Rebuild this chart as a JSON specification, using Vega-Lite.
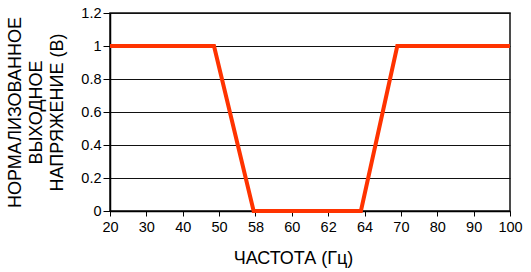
{
  "$schema": "https://vega.github.io/schema/vega-lite/v6.json",
  "width": 400,
  "height": 198,
  "autosize": "none",
  "padding": {"left": 110, "top": 13, "right": 21, "bottom": 61},
  "background": "white",
  "config": {
    "font": "Liberation Sans",
    "view": {"stroke": "#111111", "strokeWidth": 1.5}
  },
  "data": {
    "values": [
      {"f": 20, "v": 1},
      {"f": 48.6, "v": 1},
      {"f": 57.6, "v": 0},
      {"f": 63.8, "v": 0},
      {"f": 69.4, "v": 1},
      {"f": 100, "v": 1}
    ]
  },
  "mark": {"type": "line", "color": "#FF3300", "strokeWidth": 4, "strokeJoin": "miter"},
  "encoding": {
    "x": {
      "field": "f",
      "type": "quantitative",
      "scale": {
        "domain": [20, 30, 40, 50, 58, 60, 62, 64, 70, 80, 90, 100],
        "range": [0, 36.36, 72.73, 109.09, 145.45, 181.82, 218.18, 254.55, 290.91, 327.27, 363.64, 400],
        "nice": false,
        "zero": false
      },
      "axis": {
        "values": [20, 30, 40, 50, 58, 60, 62, 64, 70, 80, 90, 100],
        "title": "ЧАСТОТА (Гц)",
        "titleFontSize": 18,
        "titleFontWeight": "normal",
        "titleColor": "#000000",
        "titleX": 183,
        "titleY": 52,
        "titleBaseline": "alphabetic",
        "labelFontSize": 14.5,
        "labelColor": "#000000",
        "labelPadding": 4,
        "labelFlush": false,
        "labelOverlap": false,
        "tickSize": 5,
        "tickColor": "#000000",
        "domainColor": "#000000",
        "domainWidth": 1.5,
        "grid": false
      }
    },
    "y": {
      "field": "v",
      "type": "quantitative",
      "scale": {"domain": [0, 1.2], "nice": false},
      "axis": {
        "values": [0, 0.2, 0.4, 0.6, 0.8, 1, 1.2],
        "format": ".1~f",
        "title": ["НОРМАЛИЗОВАННОЕ", "ВЫХОДНОЕ", "НАПРЯЖЕНИЕ (В)"],
        "titleFontSize": 18,
        "titleFontWeight": "normal",
        "titleColor": "#000000",
        "titleLineHeight": 21,
        "titlePadding": 14,
        "labelFontSize": 14.5,
        "labelColor": "#000000",
        "labelPadding": 2,
        "labelFlush": false,
        "labelOverlap": false,
        "tickSize": 7,
        "tickColor": "#000000",
        "domainColor": "#000000",
        "domainWidth": 1.5,
        "grid": true,
        "gridColor": "#111111",
        "gridWidth": 1
      }
    }
  }
}
